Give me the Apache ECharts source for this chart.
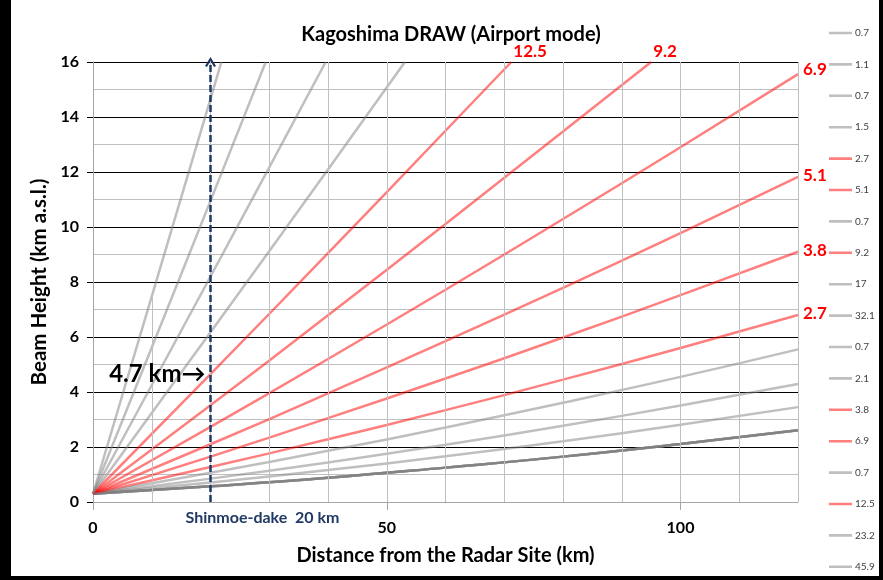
<!DOCTYPE html>
<html>
<head>
<meta charset="utf-8">
<script src="https://cdn.jsdelivr.net/npm/echarts@6/dist/echarts.min.js"></script>
<style>
  html, body { margin: 0; padding: 0; background: #000; }
  #main { position: absolute; left: 11px; top: 0; width: 868px; height: 576px; background: #fff; }
</style>
</head>
<body>
<div id="main"></div>
<script>
// Beam elevation angles (deg), in legend order
const elevAngles = ['0.7', '1.1', '0.7', '1.5', '2.7', '5.1', '0.7', '9.2', '17', '32.1',
                    '0.7', '2.1', '3.8', '6.9', '0.7', '12.5', '23.2', '45.9'];
// Angles drawn in red (the scan elevations highlighted for this mode)
const redAngles = ['2.7', '3.8', '5.1', '6.9', '9.2', '12.5'];

// Beam height (km a.s.l.) against distance from the radar (km), per elevation
const beam_0_7  = [[0, 0.3], [20, 0.57], [40, 0.88], [60, 1.25], [80, 1.65], [100, 2.11], [120, 2.61]];
const beam_1_1  = [[0, 0.3], [20, 0.71], [40, 1.16], [60, 1.66], [80, 2.21], [100, 2.81], [120, 3.45]];
const beam_1_5  = [[0, 0.3], [20, 0.85], [40, 1.44], [60, 2.08], [80, 2.77], [100, 3.51], [120, 4.29]];
const beam_2_1  = [[0, 0.3], [20, 1.06], [40, 1.86], [60, 2.71], [80, 3.61], [100, 4.55], [120, 5.55]];
const beam_2_7  = [[0, 0.3], [20, 1.27], [40, 2.28], [60, 3.34], [80, 4.45], [100, 5.60], [120, 6.80]];
const beam_3_8  = [[0, 0.3], [20, 1.65], [40, 3.05], [60, 4.49], [80, 5.98], [100, 7.52], [120, 9.10]];
const beam_5_1  = [[0, 0.3], [20, 2.10], [40, 3.95], [60, 5.85], [80, 7.79], [100, 9.78], [120, 11.82]];
const beam_6_9  = [[0, 0.3], [20, 2.73], [40, 5.20], [60, 7.72], [80, 10.29], [100, 12.90], [120, 15.56]];
const beam_9_2  = [[0, 0.3], [20, 3.52], [40, 6.79], [60, 10.11], [80, 13.47], [95, 16.0]];
const beam_12_5 = [[0, 0.3], [20, 4.65], [40, 9.05], [60, 13.50], [71.2, 16.0]];
const beam_17   = [[0, 0.3], [20, 6.17], [40, 12.09], [53.1, 16.0]];
const beam_23_2 = [[0, 0.3], [20, 8.20], [30, 12.17], [39.6, 16.0]];
const beam_32_1 = [[0, 0.3], [10, 5.62], [20, 10.95], [29.4, 16.0]];
const beam_45_9 = [[0, 0.3], [10, 7.48], [20, 14.66], [21.85, 16.0]];

const beamByAngle = {
  '0.7': beam_0_7, '1.1': beam_1_1, '1.5': beam_1_5, '2.1': beam_2_1, '2.7': beam_2_7,
  '3.8': beam_3_8, '5.1': beam_5_1, '6.9': beam_6_9, '9.2': beam_9_2, '12.5': beam_12_5,
  '17': beam_17, '23.2': beam_23_2, '32.1': beam_32_1, '45.9': beam_45_9
};

// Red angle labels: the ones that leave through the top sit above the frame
const topLabelled = ['9.2', '12.5'];

// Vertical grid positions (km); the 10 km line only runs up to the steepest beam
const vGridX = [20, 30, 40, 50, 60, 70, 80, 90, 100, 110, 120];
const vGridPartial = [10, 7.45];

// x-axis labelled / ticked distances
const xLabelValues = [0, 50, 100];

// Shinmoe-dake annotation
const volcanoDist = 20;
const volcanoBeamTop = 4.65;

const FONT = 'Lato, "Open Sans", sans-serif';
const GRAY = 'rgba(128,128,128,0.5)';
const RED = 'rgba(255,0,0,0.5)';
const NAVY = '#1F3864';

// Legend swatch: a short horizontal bar centred in a 23x14 box
const LEGEND_ICON = 'path://M0,0L0.05,0L0.05,0.05Z M0,5.7L23,5.7L23,8.3L0,8.3Z M23,14L22.95,14L22.95,13.95Z';

const chart = echarts.init(document.getElementById('main'));

const seriesNames = elevAngles.map((a, i) => a + '#' + i);

const beamSeries = elevAngles.map((a, i) => {
  const isRed = redAngles.includes(a);
  const s = {
    name: seriesNames[i],
    type: 'line',
    data: beamByAngle[a],
    smooth: true,
    symbol: 'none',
    z: 3,
    color: isRed ? RED : GRAY,
    lineStyle: { width: 2.5, color: isRed ? RED : GRAY },
    emphasis: { disabled: true },
    animation: false
  };
  if (isRed) {
    const top = topLabelled.includes(a);
    s.endLabel = {
      show: true,
      formatter: a,
      color: '#FF0000',
      fontFamily: FONT,
      fontWeight: 'bold',
      fontSize: 17,
      distance: top ? 2 : 5,
      offset: top ? [0, -10] : (a === '6.9' ? [0, -5] : [0, -1])
    };
  }
  return s;
});

// Gridlines and the Shinmoe-dake marker
const gridLines = vGridX.map(x => [{ coord: [x, 0] }, { coord: [x, 16] }]);
gridLines.push([{ coord: [vGridPartial[0], 0] }, { coord: [vGridPartial[0], vGridPartial[1]] }]);

const helperSeries = [
  {
    name: 'grid',
    type: 'line',
    data: [],
    z: 1,
    silent: true,
    animation: false,
    markLine: {
      silent: true,
      animation: false,
      symbol: ['none', 'none'],
      label: { show: false },
      lineStyle: { color: '#BFBFBF', width: 1, type: 'solid' },
      emphasis: { disabled: true },
      data: gridLines
    }
  },
  {
    name: 'volcano',
    type: 'line',
    data: [],
    z: 5,
    silent: true,
    animation: false,
    markLine: {
      silent: true,
      animation: false,
      symbol: ['none', 'path://M0,9 L5,0 L10,9 L8.2,10 L5,4 L1.8,10 Z'],
      symbolSize: [11, 10],
      label: { show: false },
      lineStyle: { color: NAVY, width: 2.5, type: [7, 3] },
      emphasis: { disabled: true },
      data: [[{ coord: [volcanoDist, 0] }, { coord: [volcanoDist, 16] }]]
    },
    markPoint: {
      silent: true,
      animation: false,
      symbol: 'circle',
      symbolSize: 0,
      data: [
        {
          coord: [volcanoDist, 0],
          label: {
            show: true,
            formatter: 'Shinmoe-dake  20 km',
            position: 'inside',
            offset: [52, 16],
            color: NAVY,
            fontFamily: FONT,
            fontWeight: 'bold',
            fontSize: 16
          }
        },
        {
          coord: [volcanoDist, volcanoBeamTop],
          label: {
            show: true,
            formatter: '4.7 km\u2192',
            position: 'left',
            distance: 5,
            color: '#000',
            fontFamily: FONT,
            fontWeight: 'bold',
            fontSize: 24
          }
        }
      ]
    }
  }
];

chart.setOption({
  animation: false,
  textStyle: { fontFamily: FONT },
  title: {
    text: 'Kagoshima DRAW (Airport mode)',
    left: 435,
    top: 20,
    textAlign: 'center',
    textStyle: { fontFamily: FONT, fontWeight: 'bold', fontSize: 20, color: '#000' }
  },
  legend: {
    data: seriesNames,
    orient: 'vertical',
    left: 818,
    top: 26,
    padding: 0,
    icon: LEGEND_ICON,
    itemWidth: 23,
    itemHeight: 14,
    itemGap: 17.4,
    selectedMode: false,
    formatter: name => name.split('#')[0],
    textStyle: { fontFamily: FONT, fontSize: 10, color: '#404040', padding: [0, 0, 0, -2] }
  },
  grid: { left: 82, top: 62, width: 705, height: 440, containLabel: false },
  xAxis: {
    type: 'value',
    min: 0,
    max: 120,
    interval: 10,
    name: 'Distance from the Radar Site (km)',
    nameLocation: 'middle',
    nameGap: 44,
    nameTextStyle: { fontFamily: FONT, fontWeight: 'bold', fontSize: 20, color: '#000' },
    axisLine: { show: true, lineStyle: { color: '#A6A6A6', width: 1 } },
    axisTick: { show: true, length: 8, lineStyle: { color: '#A6A6A6' }, customValues: xLabelValues },
    axisLabel: {
      customValues: xLabelValues,
      margin: 18,
      fontFamily: FONT,
      fontWeight: 'bold',
      fontSize: 16,
      color: '#000'
    },
    splitLine: { show: false }
  },
  yAxis: {
    type: 'value',
    min: 0,
    max: 16,
    interval: 2,
    name: 'Beam Height (km a.s.l.)',
    nameLocation: 'middle',
    nameGap: 43,
    nameTextStyle: { fontFamily: FONT, fontWeight: 'bold', fontSize: 20.5, color: '#000' },
    axisLine: { show: true, lineStyle: { color: '#A6A6A6', width: 1 } },
    axisTick: { show: true, length: 6, lineStyle: { color: '#000' } },
    axisLabel: { margin: 14, fontFamily: FONT, fontWeight: 'bold', fontSize: 16, color: '#000' },
    splitLine: { show: true, lineStyle: { color: '#000', width: 1 } },
    minorTick: { show: false, splitNumber: 2 },
    minorSplitLine: { show: true, lineStyle: { color: '#BFBFBF', width: 1 } }
  },
  series: helperSeries.concat(beamSeries)
});
</script>
</body>
</html>
